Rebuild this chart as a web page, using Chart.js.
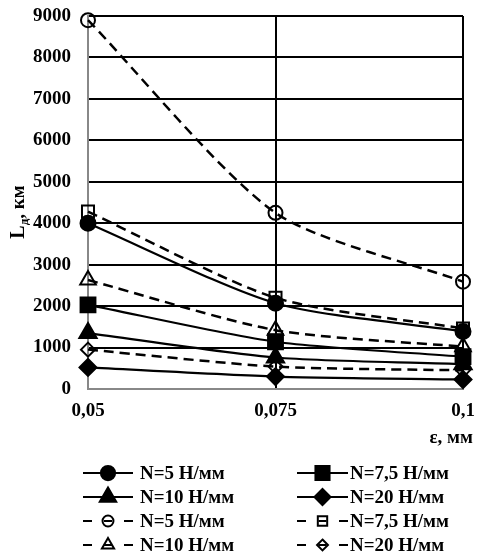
<!DOCTYPE html>
<html><head><meta charset="utf-8">
<script src="https://cdn.jsdelivr.net/npm/chart.js@4/dist/chart.umd.min.js"></script>
<style>html,body{margin:0;padding:0;background:#fff}#wrap{width:479px;height:556px;position:relative}</style>
</head><body><div id="wrap"><canvas id="c"></canvas></div>
<script>
const xValues = [0.05, 0.075, 0.1];
const xTickLabels = ['0,05', '0,075', '0,1'];
const yTickValues = [0, 1000, 2000, 3000, 4000, 5000, 6000, 7000, 8000, 9000];
const seriesLabels = ['N=5 Н/мм', 'N=7,5 Н/мм', 'N=10 Н/мм', 'N=20 Н/мм', 'N=5 Н/мм', 'N=7,5 Н/мм', 'N=10 Н/мм', 'N=20 Н/мм'];
const solid5 = [4000, 2070, 1390];
const solid75 = [2030, 1140, 780];
const solid10 = [1350, 760, 600];
const solid20 = [520, 300, 230];
const dashed5 = [8900, 4250, 2590];
const dashed75 = [4280, 2200, 1460];
const dashed10 = [2630, 1420, 1020];
const dashed20 = [950, 540, 450];
const yTitleMain = 'L';
const yTitleSub = 'д';
const yTitleRest = ', км';
const xTitle = 'ε, мм';

const FONT = '"Liberation Serif", "Times New Roman", serif';
const FS = 19;
const styles = [
  {ps:'circle', r:7.5, fill:'#000', dash:[]},
  {ps:'rect', r:10.5, fill:'#000', dash:[]},
  {ps:'triangle', r:10, fill:'#000', dash:[]},
  {ps:'rectRot', r:8.5, fill:'#000', dash:[]},
  {ps:'circle', r:7, fill:'rgba(0,0,0,0)', dash:[10,6]},
  {ps:'rect', r:8.5, fill:'rgba(0,0,0,0)', dash:[10,6]},
  {ps:'triangle', r:9, fill:'rgba(0,0,0,0)', dash:[10,6]},
  {ps:'rectRot', r:7, fill:'rgba(0,0,0,0)', dash:[10,6]}
];
const seriesData = [solid5, solid75, solid10, solid20, dashed5, dashed75, dashed10, dashed20];

const datasets = seriesData.map((vals, i) => ({
  label: seriesLabels[i],
  data: vals.map((v, j) => ({x: xValues[j], y: v})),
  borderColor: '#000',
  borderWidth: i < 4 ? 2.2 : 2.5,
  borderDash: styles[i].dash,
  backgroundColor: styles[i].fill,
  pointStyle: styles[i].ps,
  pointRadius: styles[i].r,
  pointBorderColor: '#000',
  pointBackgroundColor: styles[i].fill,
  pointBorderWidth: 2,
  tension: 0.25,
  fill: false,
  clip: false,
  order: i < 4 ? 0 : 1
}));

function drawMarker(ctx, ps, r, fill, x, y) {
  ctx.save();
  ctx.fillStyle = fill; ctx.strokeStyle = '#000'; ctx.lineWidth = 2; ctx.setLineDash([]);
  ctx.beginPath();
  if (ps === 'circle') ctx.arc(x, y, r, 0, Math.PI * 2);
  else if (ps === 'rect') { const s = Math.SQRT1_2 * r; ctx.rect(x - s, y - s, 2 * s, 2 * s); }
  else if (ps === 'triangle') { ctx.moveTo(x, y - r); ctx.lineTo(x + r * 0.866, y + r * 0.5); ctx.lineTo(x - r * 0.866, y + r * 0.5); ctx.closePath(); }
  else if (ps === 'rectRot') { ctx.moveTo(x, y - r); ctx.lineTo(x + r, y); ctx.lineTo(x, y + r); ctx.lineTo(x - r, y); ctx.closePath(); }
  ctx.fill(); ctx.stroke();
  ctx.restore();
}

const legendPlugin = {
  id: 'customLegend',
  afterDraw(chart) {
    const ctx = chart.ctx;
    const rowsY = [473, 497, 521, 545];
    const cols = [{x0: 83, x1: 133, tx: 140}, {x0: 297, x1: 348, tx: 350}];
    ctx.save();
    ctx.font = 'bold ' + FS + 'px ' + FONT;
    ctx.fillStyle = '#000';
    ctx.textBaseline = 'middle';
    seriesLabels.forEach((lab, i) => {
      const row = Math.floor(i / 2), col = cols[i % 2];
      const y = rowsY[row];
      const st = styles[i];
      const mid = (col.x0 + col.x1) / 2;
      ctx.strokeStyle = '#000'; ctx.lineWidth = 2.2;
      ctx.beginPath();
      if (st.dash.length) {
        ctx.moveTo(col.x0, y); ctx.lineTo(col.x0 + 9, y);
        ctx.moveTo(mid - 4, y); ctx.lineTo(mid + 4, y);
        ctx.moveTo(col.x1 - 9, y); ctx.lineTo(col.x1, y);
      } else {
        ctx.moveTo(col.x0, y); ctx.lineTo(col.x1, y);
      }
      ctx.stroke();
      const lr = st.dash.length ? st.r * 0.78 : st.r * 0.95;
      drawMarker(ctx, st.ps, lr, st.fill, mid, y);
      ctx.fillText(lab, col.tx, y + 1);
    });
    // x title
    ctx.textAlign = 'right';
    ctx.fillText(xTitle, 473, 438);
    ctx.textAlign = 'left';
    // y title with subscript
    ctx.translate(17, 212);
    ctx.rotate(-Math.PI / 2);
    ctx.textBaseline = 'alphabetic';
    ctx.font = 'bold 20px ' + FONT;
    const wL = ctx.measureText(yTitleMain).width;
    ctx.font = 'bold 13px ' + FONT;
    const wS = ctx.measureText(yTitleSub).width;
    ctx.font = 'bold ' + FS + 'px ' + FONT;
    const wR = ctx.measureText(yTitleRest).width;
    let x = -(wL + wS + wR) / 2;
    ctx.font = 'bold 20px ' + FONT;
    ctx.fillText(yTitleMain, x, 7); x += wL;
    ctx.font = 'bold 13px ' + FONT;
    ctx.fillText(yTitleSub, x, 11); x += wS;
    ctx.font = 'bold ' + FS + 'px ' + FONT;
    ctx.fillText(yTitleRest, x, 7);
    ctx.restore();
  }
};

new Chart(document.getElementById('c'), {
  type: 'line',
  data: {datasets},
  options: {
    responsive: true,
    maintainAspectRatio: false,
    animation: false,
    layout: {autoPadding: false, padding: {left: 0, right: 16, top: 16, bottom: 110}},
    plugins: {legend: {display: false}, tooltip: {enabled: false}},
    scales: {
      x: {
        type: 'linear', min: 0.05, max: 0.1,
        afterBuildTicks(s) { s.ticks = xValues.map(v => ({value: v})); },
        afterFit(s) { s.height = 57; s.paddingLeft = 0; s.paddingRight = 0; },
        ticks: {
          padding: 11, color: '#000', maxRotation: 0,
          font: {family: FONT, size: FS, weight: 'bold'},
          callback: (v, i) => xTickLabels[i]
        },
        grid: {color: '#000', lineWidth: 2, drawTicks: false},
        border: {color: '#888', width: 2}
      },
      y: {
        min: 0, max: 9000,
        afterBuildTicks(s) { s.ticks = yTickValues.map(v => ({value: v})); },
        afterFit(s) { s.width = 88; s.paddingTop = 0; s.paddingBottom = 0; },
        ticks: {padding: 17, color: '#000', font: {family: FONT, size: FS, weight: 'bold'},
          callback: (v) => String(v)},
        grid: {color: '#000', lineWidth: 2, drawTicks: false},
        border: {color: '#888', width: 2}
      }
    }
  },
  plugins: [legendPlugin]
});
</script></body></html>
